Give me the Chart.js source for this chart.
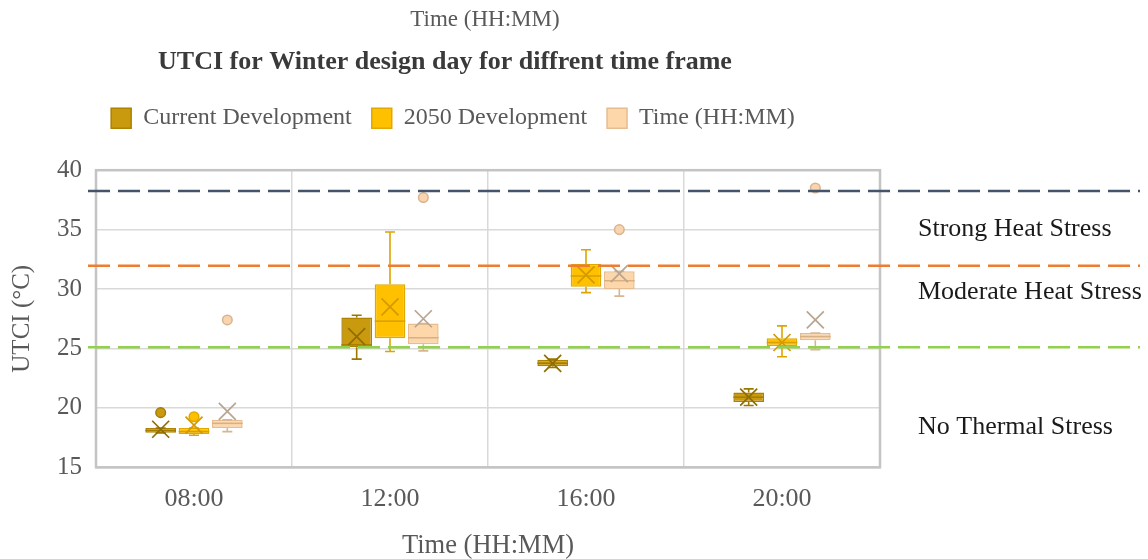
<!DOCTYPE html>
<html><head><meta charset="utf-8">
<script src="https://cdn.jsdelivr.net/npm/chart.js@4/dist/chart.umd.min.js"></script>
<style>html,body{margin:0;padding:0;background:#fff;overflow:hidden}#wrap{width:1148px;height:559px}</style>
</head><body><div id="wrap"><canvas id="c" width="1148" height="559"></canvas></div>
<script>
const categories = ['08:00', '12:00', '16:00', '20:00'];
const seriesNames = ['Current Development', '2050 Development', 'Time (HH:MM)'];
const yTicks = [15, 20, 25, 30, 35, 40];

// Current Development
const currentMin    = [17.9, 24.1, 23.4, 20.2];
const currentQ1     = [17.9, 25.1, 23.5, 20.5];
const currentMedian = [18.1, 25.3, 23.75, 20.9];
const currentQ3     = [18.3, 27.6, 24.05, 21.3];
const currentMax    = [18.3, 27.8, 24.1, 21.6];
const currentMean   = [18.2, 26.0, 23.75, 20.9];
const currentOutliers = [[19.6], [], [], []];

// 2050 Development
const dev2050Min    = [17.7, 24.75, 29.7, 24.3];
const dev2050Q1     = [17.8, 25.85, 30.2, 25.2];
const dev2050Median = [18.0, 27.3, 31.1, 25.5];
const dev2050Q3     = [18.3, 30.4, 32.1, 25.85];
const dev2050Max    = [18.3, 34.8, 33.3, 26.9];
const dev2050Mean   = [18.55, 28.5, 31.2, 25.5];
const dev2050Outliers = [[19.25], [], [], []];

// Time (HH:MM)
const timeMin    = [18.0, 24.8, 29.4, 24.9];
const timeQ1     = [18.3, 25.35, 30.0, 25.7];
const timeMedian = [18.7, 25.9, 30.7, 26.0];
const timeQ3     = [19.0, 27.1, 31.5, 26.3];
const timeMax    = [19.0, 27.1, 31.5, 26.3];
const timeMean   = [19.7, 27.5, 31.3, 27.4];
const timeOutliers = [[27.4], [37.7], [35.0], [38.5]];

// Thermal stress thresholds
const thresholdValues = [38.25, 31.95, 25.1];
const thresholdColors = ['#44546a', '#ed7d31', '#92d050'];
const zoneLabels = ['Strong Heat Stress', 'Moderate Heat Stress', 'No Thermal Stress'];
const zoneLabelValues = [35.05, 29.75, 18.4];

const serif = 'Liberation Serif, Times New Roman, serif';

const series = [
  {min: currentMin, q1: currentQ1, med: currentMedian, q3: currentQ3, max: currentMax, mean: currentMean, out: currentOutliers,
   fill: '#c99a0e', border: '#ac8200', whisker: '#9c7700', meanColor: '#8f6d00', outFill: '#c99a0e', outBorder: '#a67c00', medColor: '#a67c00'},
  {min: dev2050Min, q1: dev2050Q1, med: dev2050Median, q3: dev2050Q3, max: dev2050Max, mean: dev2050Mean, out: dev2050Outliers,
   fill: '#ffc000', border: '#e0a800', whisker: '#dca500', meanColor: '#d49a00', outFill: '#ffc000', outBorder: '#e0a800', medColor: '#d9a000'},
  {min: timeMin, q1: timeQ1, med: timeMedian, q3: timeQ3, max: timeMax, mean: timeMean, out: timeOutliers,
   fill: '#fdd6aa', border: '#e5bd90', whisker: '#d8b690', meanColor: '#b8a590', outFill: '#f8d5b0', outBorder: '#d9b48c', medColor: '#d8b085'}
];

const boxPlugin = {
  id: 'boxWhiskers',
  afterDatasetsDraw(chart) {
    const ctx = chart.ctx, y = chart.scales.y;
    series.forEach((s, d) => {
      const meta = chart.getDatasetMeta(d);
      meta.data.forEach((bar, i) => {
        const x = bar.x, w = bar.width, cap = 5;
        const pMin = y.getPixelForValue(s.min[i]), pQ1 = y.getPixelForValue(s.q1[i]);
        const pQ3 = y.getPixelForValue(s.q3[i]), pMax = y.getPixelForValue(s.max[i]);
        const pMed = y.getPixelForValue(s.med[i]), pMean = y.getPixelForValue(s.mean[i]);
        ctx.save();
        ctx.strokeStyle = s.whisker; ctx.lineWidth = 1.6;
        ctx.beginPath();
        if (s.max[i] > s.q3[i]) { ctx.moveTo(x, pQ3); ctx.lineTo(x, pMax); }
        ctx.moveTo(x - cap, pMax); ctx.lineTo(x + cap, pMax);
        if (s.min[i] < s.q1[i]) { ctx.moveTo(x, pQ1); ctx.lineTo(x, pMin); }
        ctx.moveTo(x - cap, pMin); ctx.lineTo(x + cap, pMin);
        ctx.stroke();
        ctx.strokeStyle = s.medColor; ctx.lineWidth = 1.5;
        ctx.beginPath(); ctx.moveTo(x - w / 2, pMed); ctx.lineTo(x + w / 2, pMed); ctx.stroke();
        const r = 8.5;
        ctx.strokeStyle = s.meanColor; ctx.lineWidth = 1.7;
        ctx.beginPath();
        ctx.moveTo(x - r, pMean - r); ctx.lineTo(x + r, pMean + r);
        ctx.moveTo(x + r, pMean - r); ctx.lineTo(x - r, pMean + r);
        ctx.stroke();
        s.out[i].forEach(v => {
          const py = y.getPixelForValue(v);
          ctx.beginPath(); ctx.arc(x, py, 4.8, 0, Math.PI * 2);
          ctx.fillStyle = s.outFill; ctx.fill();
          ctx.strokeStyle = s.outBorder; ctx.lineWidth = 1.5; ctx.stroke();
        });
        ctx.restore();
      });
    });
  }
};

const framePlugin = {
  id: 'frameAndZones',
  beforeInit(chart) {
    const lg = chart.legend;
    if (lg) {
      const orig = lg.fit;
      lg.fit = function () { orig.call(this); this.height += 30; };
    }
  },
  afterLayout(chart) {
    if (chart.legend) { chart.legend.left += 13; chart.legend.right += 13; }
    if (chart.titleBlock) { chart.titleBlock.left += 5; chart.titleBlock.right += 5; }
  },
  afterDraw(chart) {
    const ctx = chart.ctx, a = chart.chartArea, y = chart.scales.y;
    ctx.save();
    ctx.strokeStyle = '#c4c4c4'; ctx.lineWidth = 2.5;
    ctx.strokeRect(a.left, a.top, a.right - a.left, a.bottom - a.top);
    thresholdValues.forEach((v, k) => {
      const py = y.getPixelForValue(v);
      ctx.strokeStyle = thresholdColors[k]; ctx.lineWidth = 2.5;
      ctx.setLineDash([22, 8]);
      ctx.beginPath(); ctx.moveTo(a.left - 8, py); ctx.lineTo(1140, py); ctx.stroke();
    });
    ctx.setLineDash([]);
    ctx.fillStyle = '#1a1a1a';
    ctx.font = '26px ' + serif;
    ctx.textAlign = 'left'; ctx.textBaseline = 'middle';
    zoneLabels.forEach((t, k) => ctx.fillText(t, 918, y.getPixelForValue(zoneLabelValues[k])));
    ctx.fillStyle = '#595959';
    ctx.font = '23px ' + serif;
    ctx.textAlign = 'center';
    ctx.fillText('Time (HH:MM)', 485, 20);
    ctx.restore();
  }
};

const datasets = series.map((s, d) => ({
  label: seriesNames[d],
  data: s.q1.map((q, i) => [q, s.q3[i]]),
  backgroundColor: s.fill,
  borderColor: s.border,
  borderWidth: 1.5,
  borderSkipped: false,
  categoryPercentage: 0.51,
  barPercentage: 0.92
}));

new Chart(document.getElementById('c'), {
  type: 'bar',
  data: {labels: categories, datasets},
  options: {
    responsive: false,
    animation: false,
    devicePixelRatio: 1,
    layout: {padding: {left: 0, right: 268, top: 0, bottom: 0}},
    plugins: {
      title: {display: true, text: 'UTCI for Winter design day for diffrent time frame',
        font: {family: serif, size: 26, weight: 'bold'}, color: '#3a3a3a', padding: {top: 47, bottom: 8}},
      legend: {position: 'top', labels: {boxWidth: 20, boxHeight: 20, padding: 20,
        font: {family: serif, size: 24}, color: '#595959'}},
      tooltip: {enabled: false}
    },
    scales: {
      x: {
        grid: {color: '#d9d9d9', lineWidth: 1.5, drawTicks: false},
        border: {display: false},
        ticks: {font: {family: serif, size: 26}, color: '#595959', padding: 16},
        title: {display: true, text: 'Time (HH:MM)', font: {family: serif, size: 26.5, lineHeight: 1}, color: '#595959', padding: {top: 2, bottom: 0}}
      },
      y: {
        min: 15, max: 40,
        afterBuildTicks(scale) { scale.ticks = yTicks.map(v => ({value: v})); },
        grid: {color: '#d9d9d9', lineWidth: 1.5, drawTicks: false},
        border: {display: false},
        ticks: {font: {family: serif, size: 25}, color: '#595959', padding: 14},
        title: {display: true, text: 'UTCI (°C)', font: {family: serif, size: 25}, color: '#595959', padding: {top: 7, bottom: 6}}
      }
    }
  },
  plugins: [boxPlugin, framePlugin]
});
</script></body></html>
